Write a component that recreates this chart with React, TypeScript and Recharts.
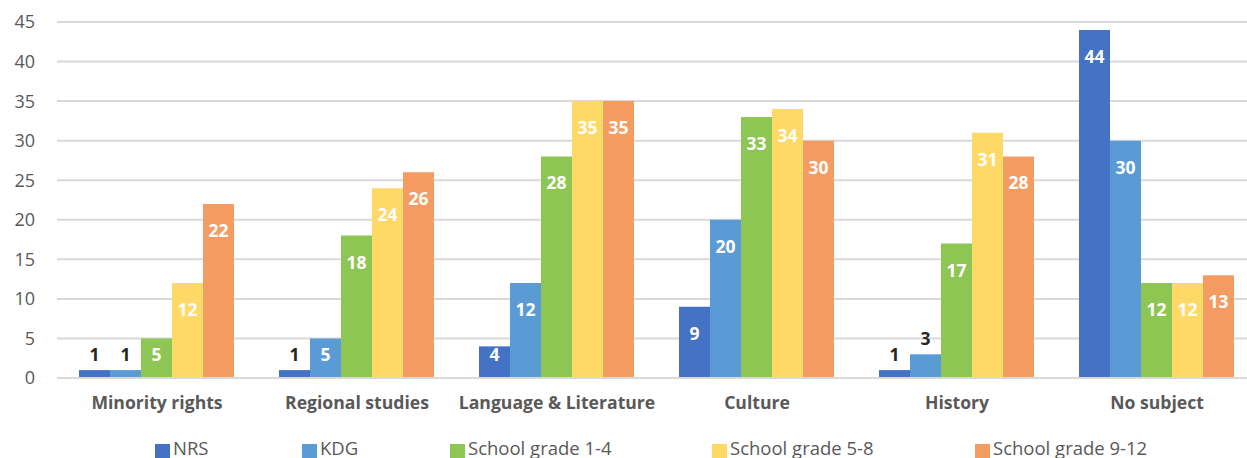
import { BarChart, Bar, XAxis, YAxis, CartesianGrid, LabelList } from 'recharts'

const categories = ['Minority rights', 'Regional studies', 'Language & Literature', 'Culture', 'History', 'No subject']
const nrs = [1, 1, 4, 9, 1, 44]
const kdg = [1, 5, 12, 20, 3, 30]
const grade1to4 = [5, 18, 28, 33, 17, 12]
const grade5to8 = [12, 24, 35, 34, 31, 12]
const grade9to12 = [22, 26, 35, 30, 28, 13]
const yTicks = [0, 5, 10, 15, 20, 25, 30, 35, 40, 45]

const series = [
  { key: 'nrs', label: 'NRS', color: '#4472C4', values: nrs, slot: 147 },
  { key: 'kdg', label: 'KDG', color: '#5B9BD5', values: kdg, slot: 148 },
  { key: 'g14', label: 'School grade 1-4', color: '#8DC652', values: grade1to4, slot: 262 },
  { key: 'g58', label: 'School grade 5-8', color: '#FFD966', values: grade5to8, slot: 263 },
  { key: 'g912', label: 'School grade 9-12', color: '#F49C62', values: grade9to12, slot: 220 },
]

const data = categories.map((name, i) => {
  const row: Record<string, string | number> = { name }
  series.forEach((s) => { row[s.key] = s.values[i] })
  return row
})

const FONT = '"Open Sans", "Noto Sans", sans-serif'

// small bars get a dark label above, the rest a white one near the top inside
function BarLabel(props: any) {
  const { x, y, width, height, value } = props
  const cx = Number(x) + Number(width) / 2
  const top = Number(y)
  const h = Number(height)
  if (h < 26) {
    return (
      <text x={cx} y={top - 9} textAnchor="middle" fontFamily={FONT} fontWeight={700} fontSize={17.5} fill="#262626">
        {value}
      </text>
    )
  }
  const center = Math.min(top + 27, top + h - 23)
  return (
    <text x={cx} y={center + 6} textAnchor="middle" fontFamily={FONT} fontWeight={700} fontSize={17.5} fill="#ffffff">
      {value}
    </text>
  )
}

export default function App() {
  return (
    <div style={{ position: 'absolute', left: 0, top: 0, width: 1247, height: 458, overflow: 'hidden', background: '#fff', fontFamily: FONT }}>
      <BarChart
        width={1270}
        height={500}
        data={data}
        margin={{ top: 22, right: 13, left: 0, bottom: 0 }}
        barCategoryGap="11%"
        barGap={0}
      >
        <CartesianGrid stroke="#D9D9D9" strokeWidth={2} vertical={false} />
        <XAxis
          dataKey="name"
          height={122}
          axisLine={{ stroke: '#D9D9D9', strokeWidth: 2 }}
          tickLine={false}
          tickSize={0}
          tickMargin={19}
          interval={0}
          tick={{ fill: '#595959', fontSize: 17.6, fontWeight: 700, fontFamily: FONT }}
        />
        <YAxis
          width={57}
          domain={[0, 45]}
          ticks={yTicks}
          axisLine={false}
          tickLine={false}
          tickSize={0}
          tickMargin={22}
          tick={{ fill: '#595959', fontSize: 18, fontFamily: FONT }}
        />
        {series.map((s) => (
          <Bar key={s.key} dataKey={s.key} name={s.label} fill={s.color} isAnimationActive={false}>
            <LabelList dataKey={s.key} content={BarLabel} />
          </Bar>
        ))}
      </BarChart>
      <div style={{ position: 'absolute', left: 155, top: 435, display: 'flex', alignItems: 'center', fontSize: 18.5, color: '#595959', whiteSpace: 'nowrap' }}>
        {series.map((s) => (
          <div key={s.key} style={{ width: s.slot, display: 'flex', alignItems: 'center' }}>
            <span style={{ display: 'inline-block', width: 15, height: 15, background: s.color, marginRight: 3, marginTop: 8 }} />
            <span>{s.label}</span>
          </div>
        ))}
      </div>
    </div>
  )
}
